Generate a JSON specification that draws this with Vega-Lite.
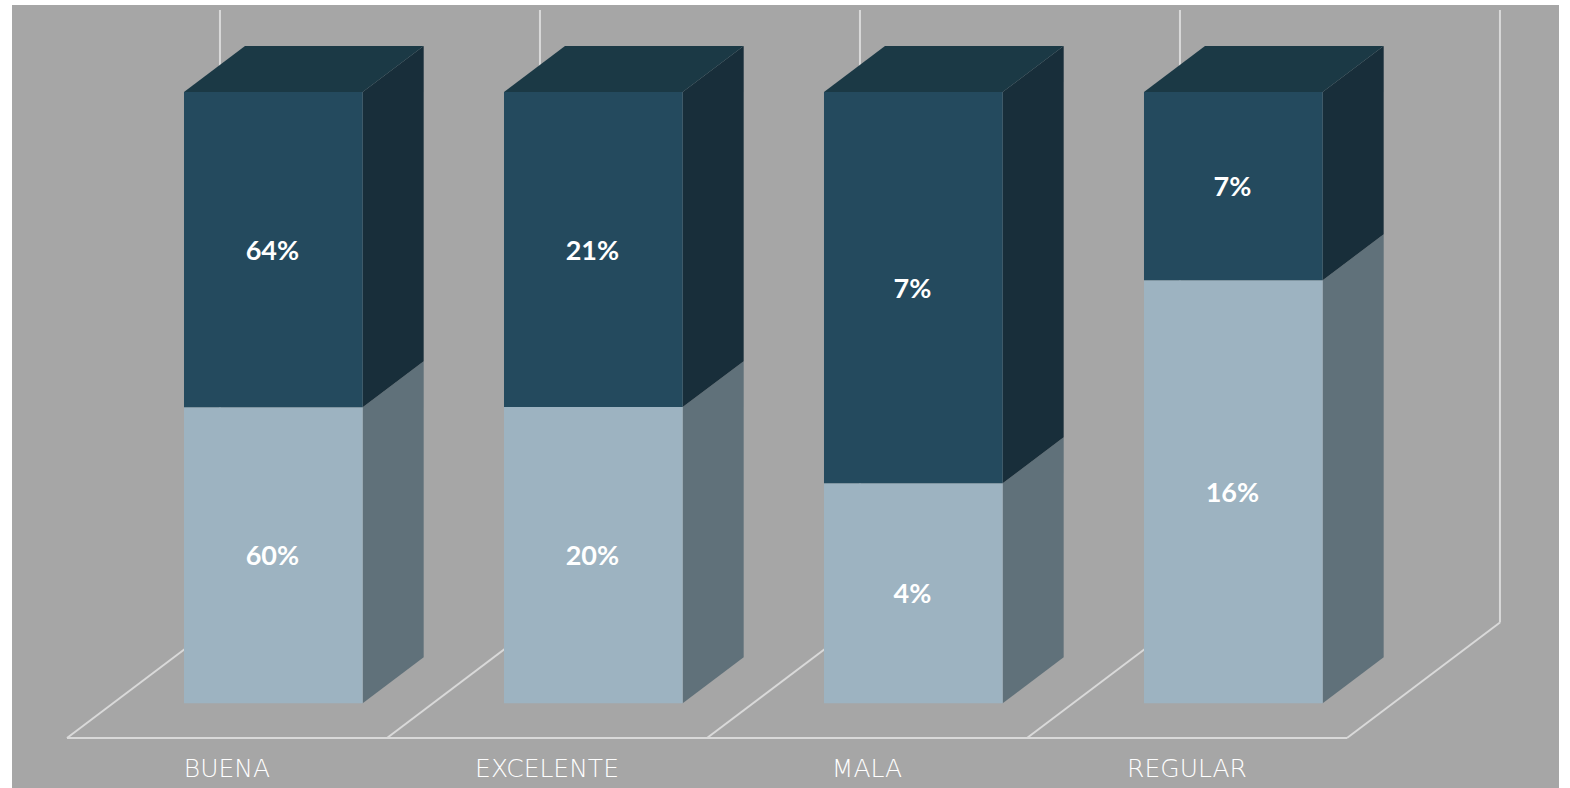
{
  "$schema": "https://vega.github.io/schema/vega-lite/v6.json",
  "width": 1547,
  "height": 783,
  "autosize": {"type": "none"},
  "padding": {"left": 12, "top": 5, "right": 11, "bottom": 0},
  "background": "#ffffff",
  "view": {"fill": "#A6A6A6", "stroke": null},
  "datasets": {
    "barras": [
      {"categoria": "BUENA", "serie": "Serie 1", "valor": 0.60},
      {"categoria": "BUENA", "serie": "Serie 2", "valor": 0.6385},
      {"categoria": "EXCELENTE", "serie": "Serie 1", "valor": 0.20},
      {"categoria": "EXCELENTE", "serie": "Serie 2", "valor": 0.2128},
      {"categoria": "MALA", "serie": "Serie 1", "valor": 0.04},
      {"categoria": "MALA", "serie": "Serie 2", "valor": 0.0711},
      {"categoria": "REGULAR", "serie": "Serie 1", "valor": 0.16},
      {"categoria": "REGULAR", "serie": "Serie 2", "valor": 0.0712}
    ],
    "piso": [{"eje": 0}, {"eje": 1}, {"eje": 2}, {"eje": 3}, {"eje": 4}],
    "uno": [{"tramo": "frente"}]
  },
  "resolve": {"scale": {"color": "independent"}},
  "layer": [
    {
      "data": {"name": "piso"},
      "transform": [{"calculate": "datum.eje + 0.478", "as": "fondo"}],
      "mark": {"type": "rule", "color": "#D9D9D9", "strokeWidth": 2},
      "encoding": {
        "x": {"field": "fondo", "type": "quantitative", "axis": null, "scale": {"domain": [-0.1719, 4.6625], "nice": false, "zero": false}},
        "y": {"datum": 0.1322, "type": "quantitative", "axis": null, "scale": {"domain": [-0.1386, 1.1423], "nice": false, "zero": false}},
        "y2": {"datum": 1.1342}
      }
    },
    {
      "data": {"name": "piso"},
      "transform": [{"calculate": "datum.eje + 0.478", "as": "fondo"}],
      "mark": {"type": "rule", "color": "#D9D9D9", "strokeWidth": 2},
      "encoding": {
        "x": {"field": "eje", "type": "quantitative", "axis": null},
        "x2": {"field": "fondo"},
        "y": {"datum": -0.0567, "type": "quantitative", "axis": null},
        "y2": {"datum": 0.1322}
      }
    },
    {
      "data": {"name": "uno"},
      "mark": {"type": "rule", "color": "#D9D9D9", "strokeWidth": 2},
      "encoding": {
        "x": {"datum": 0, "type": "quantitative", "axis": null},
        "x2": {"datum": 4},
        "y": {"datum": -0.0567, "type": "quantitative", "axis": null}
      }
    },
    {
      "data": {"name": "barras"},
      "transform": [
        {"stack": "valor", "groupby": ["categoria"], "sort": [{"field": "serie", "order": "ascending"}], "offset": "normalize", "as": ["y0", "y1"]},
        {"calculate": "indexof(['BUENA','EXCELENTE','MALA','REGULAR'], datum.categoria)", "as": "pos"},
        {"calculate": "[0, 1]", "as": "borde"},
        {"flatten": ["borde"]},
        {"calculate": "datum.pos + 0.924 + datum.borde * 0.1906", "as": "xl"},
        {"calculate": "datum.y0 + datum.borde * 0.0752", "as": "ya"},
        {"calculate": "datum.y1 + datum.borde * 0.0752", "as": "yb"}
      ],
      "mark": {"type": "area", "orient": "vertical"},
      "encoding": {
        "x": {"field": "xl", "type": "quantitative", "axis": null},
        "y": {"field": "ya", "type": "quantitative", "axis": null},
        "y2": {"field": "yb"},
        "detail": {"field": "categoria"},
        "color": {"field": "serie", "type": "nominal", "legend": null, "scale": {"domain": ["Serie 1", "Serie 2"], "range": ["#60717A", "#182E3A"]}}
      }
    },
    {
      "data": {"name": "barras"},
      "transform": [
        {"calculate": "indexof(['BUENA','EXCELENTE','MALA','REGULAR'], datum.categoria)", "as": "pos"},
        {"filter": "datum.serie === 'Serie 2'"},
        {"calculate": "[0, 1]", "as": "borde"},
        {"flatten": ["borde"]},
        {"calculate": "datum.pos + 0.3656 + datum.borde * 0.1906", "as": "xa"},
        {"calculate": "datum.pos + 0.924 + datum.borde * 0.1906", "as": "xb"},
        {"calculate": "1 + datum.borde * 0.0752", "as": "yt"}
      ],
      "mark": {"type": "area", "orient": "horizontal", "color": "#1B3945"},
      "encoding": {
        "y": {"field": "yt", "type": "quantitative", "axis": null},
        "x": {"field": "xa", "type": "quantitative", "axis": null},
        "x2": {"field": "xb"},
        "detail": {"field": "categoria"}
      }
    },
    {
      "data": {"name": "barras"},
      "transform": [
        {"stack": "valor", "groupby": ["categoria"], "sort": [{"field": "serie", "order": "ascending"}], "offset": "normalize", "as": ["y0", "y1"]},
        {"calculate": "indexof(['BUENA','EXCELENTE','MALA','REGULAR'], datum.categoria)", "as": "pos"},
        {"calculate": "datum.pos + 0.3656", "as": "xa"},
        {"calculate": "datum.pos + 0.924", "as": "xb"}
      ],
      "mark": {"type": "rect"},
      "encoding": {
        "x": {"field": "xa", "type": "quantitative", "axis": null},
        "x2": {"field": "xb"},
        "y": {"field": "y0", "type": "quantitative", "axis": null},
        "y2": {"field": "y1"},
        "color": {"field": "serie", "type": "nominal", "legend": null, "scale": {"domain": ["Serie 1", "Serie 2"], "range": ["#9DB3C1", "#244A5E"]}}
      }
    },
    {
      "data": {"name": "barras"},
      "transform": [
        {"stack": "valor", "groupby": ["categoria"], "sort": [{"field": "serie", "order": "ascending"}], "offset": "normalize", "as": ["y0", "y1"]},
        {"calculate": "indexof(['BUENA','EXCELENTE','MALA','REGULAR'], datum.categoria)", "as": "pos"},
        {"calculate": "datum.pos + 0.6418", "as": "xm"},
        {"calculate": "(datum.y0 + datum.y1) / 2", "as": "ym"}
      ],
      "mark": {"type": "text", "font": "Lato", "fontWeight": "bold", "fontSize": 27, "color": "#FFFFFF", "align": "center", "baseline": "middle", "dy": 2},
      "encoding": {
        "x": {"field": "xm", "type": "quantitative", "axis": null},
        "y": {"field": "ym", "type": "quantitative", "axis": null},
        "text": {"field": "valor", "type": "quantitative", "format": ".0%"}
      }
    },
    {
      "data": {"name": "barras"},
      "transform": [
        {"filter": "datum.serie === 'Serie 1'"},
        {"calculate": "indexof(['BUENA','EXCELENTE','MALA','REGULAR'], datum.categoria) + 0.5", "as": "xm"}
      ],
      "mark": {"type": "text", "font": "DejaVu Sans", "fontWeight": 200, "fontSize": 25, "color": "#FFFFFF", "align": "center", "baseline": "middle"},
      "encoding": {
        "x": {"field": "xm", "type": "quantitative", "axis": null},
        "y": {"datum": -0.1075, "type": "quantitative", "axis": null},
        "text": {"field": "categoria", "type": "nominal"}
      }
    }
  ]
}
